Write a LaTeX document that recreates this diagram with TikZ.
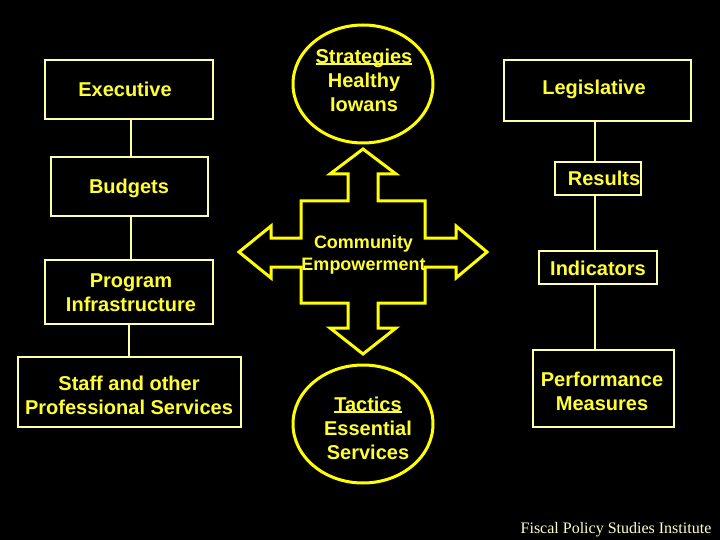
\documentclass[tikz,border=0pt]{standalone}
\usepackage{fontspec}
\setmainfont{Liberation Sans}
\newfontfamily\fpsifont{Liberation Serif}
\usetikzlibrary{shapes.geometric}
\definecolor{ylw}{RGB}{255,255,0}
\definecolor{ylwtext}{RGB}{255,255,51}
\definecolor{boxline}{RGB}{255,255,170}
\definecolor{foot}{RGB}{255,255,204}
\newcommand\ulbox[1]{\setbox0\hbox{#1}\rlap{\rule[-1.8pt]{\wd0}{2pt}}\box0}
\begin{document}
\begin{tikzpicture}[x=1pt,y=-1pt,
  box/.style={draw=boxline, line width=1.2pt, fill=black, inner sep=0pt},
  conn/.style={draw=boxline, line width=1.2pt},
  lbl/.style={text=ylwtext, font=\bfseries\fontsize{20}{24}\selectfont, align=center, inner sep=0pt},
  oval/.style={ellipse, draw=ylw, line width=3pt, fill=black, minimum width=140pt, minimum height=118pt, inner sep=0pt},
  crossline/.style={draw=ylw, line width=3pt, line join=miter, fill=black},
]
\fill[black] (0,0) rectangle (720,540);
\useasboundingbox (0,0) rectangle (720,540);

% left column boxes
\node[box, minimum width=168pt, minimum height=59pt] (exec) at (129,89.5) {};
\node[box, minimum width=157pt, minimum height=59pt] (budgets) at (129.5,186.5) {};
\node[box, minimum width=168pt, minimum height=64pt] (prog) at (129,292) {};
\node[box, minimum width=223pt, minimum height=70pt] (staff) at (129.5,392) {};

% right column boxes
\node[box, minimum width=187pt, minimum height=61pt] (legis) at (597.5,90.5) {};
\node[box, minimum width=86pt, minimum height=33pt] (results) at (598,178.5) {};
\node[box, minimum width=118pt, minimum height=33pt] (indic) at (598,267.5) {};
\node[box, minimum width=141pt, minimum height=77pt] (perf) at (603.5,388.5) {};

% connectors
\draw[conn] (exec.south -| 131,0) -- (budgets.north -| 131,0);
\draw[conn] (budgets.south -| 131,0) -- (prog.north -| 131,0);
\draw[conn] (prog.south -| 129,0) -- (staff.north -| 129,0);
\draw[conn] (legis.south -| 595,0) -- (results.north -| 595,0);
\draw[conn] (results.south -| 595,0) -- (indic.north -| 595,0);
\draw[conn] (indic.south -| 595,0) -- (perf.north -| 595,0);

% labels
\node[lbl, anchor=base] (execT) at (125,97) {Executive};
\node[lbl, anchor=base] (budgetsT) at (129,194) {Budgets};
\node[lbl] (progT) at (131,293) {Program\\Infrastructure};
\node[lbl] (staffT) at (129,395) {Staff and other\\Professional Services};
\node[lbl, anchor=base] (legisT) at (594,95) {Legislative};
\node[lbl, anchor=base] (resultsT) at (604,186) {Results};
\node[lbl, anchor=base] (indicT) at (598,275) {Indicators};
\node[lbl] (perfT) at (602,391) {Performance\\Measures};

% ovals
\node[oval] (strat) at (363,84) {};
\node[oval] (tact) at (363,424) {};
\node[lbl] (stratT) at (364,80) {\ulbox{Strategies}\\Healthy\\Iowans};
\node[lbl] (tactT) at (368,428) {\ulbox{Tactics}\\Essential\\Services};

% four-way arrow
\draw[crossline] (363,149) -- (396,174) -- (378,174) -- (378,201) -- (425,201) -- (425,238)
  -- (456,238) -- (456,226) -- (487,252) -- (456,278) -- (456,267) -- (425,267) -- (425,303)
  -- (378,303) -- (378,328) -- (396,328) -- (363,354) -- (330,328) -- (348,328) -- (348,303)
  -- (301,303) -- (301,267) -- (271,267) -- (271,278) -- (239,252) -- (271,226) -- (271,238)
  -- (301,238) -- (301,201) -- (348,201) -- (348,174) -- (330,174) -- cycle;
\node[lbl, font=\bfseries\fontsize{18}{22}\selectfont] (comm) at (363.5,255) {Community\\Empowerment};

% footer
\node[text=foot, font=\fpsifont\fontsize{16}{19}\selectfont, anchor=base, inner sep=0pt] (footer) at (616,533) {Fiscal Policy Studies Institute};
\end{tikzpicture}
\end{document}
